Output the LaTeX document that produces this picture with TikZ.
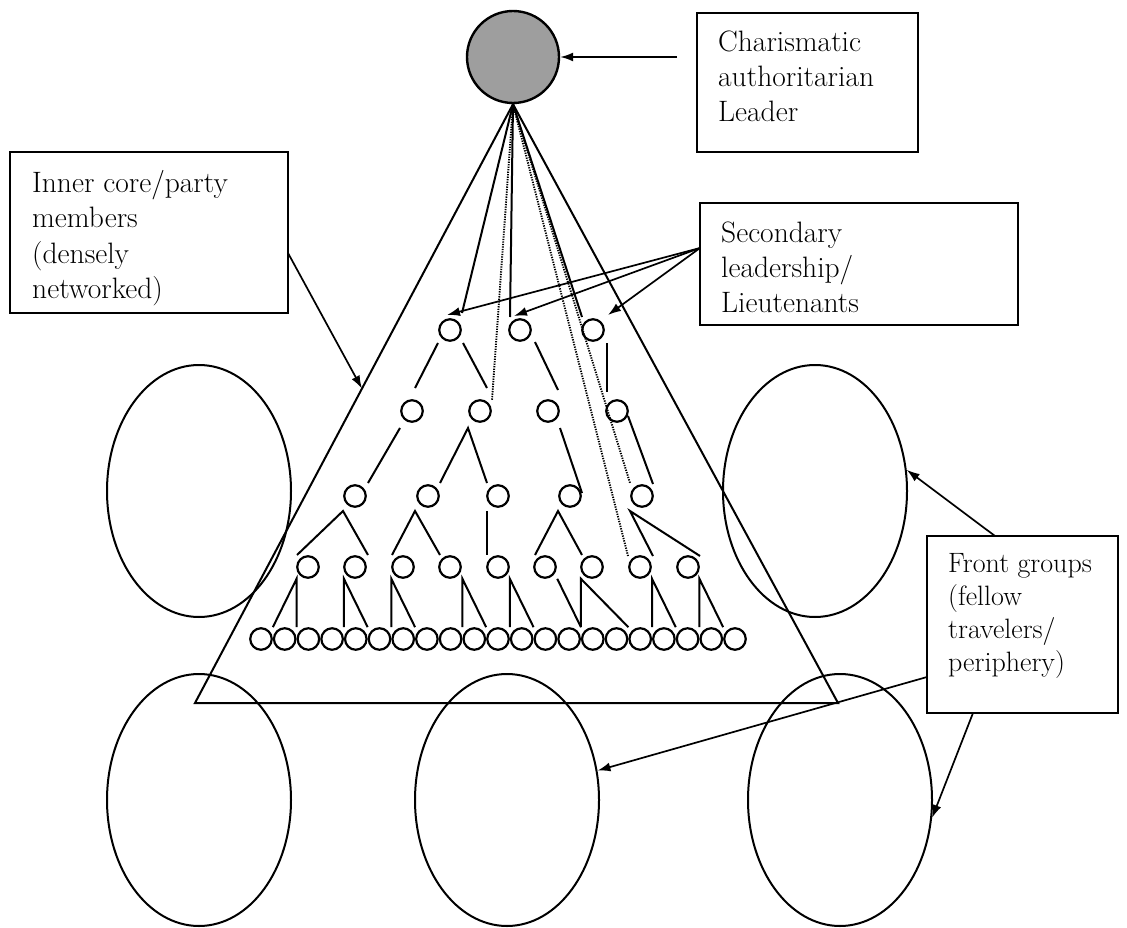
\documentclass[tikz,border=0pt]{standalone}
\usetikzlibrary{shapes.geometric,calc,arrows.meta}
\begin{document}
\begin{tikzpicture}[x=1pt,y=-1pt,
  box/.style={draw, line width=2.4pt, rectangle, inner sep=0pt, outer sep=0pt},
  lbl/.style={anchor=base west, inner sep=0pt, font=\fontsize{29.5}{35}\selectfont},
  flbl/.style={lbl, font=\fontsize{28}{33}\selectfont},
  member/.style={draw, circle, line width=2.2pt, minimum size=21.5pt, inner sep=0pt},
  leader/.style={draw, circle, line width=2.4pt, fill=black!38, minimum size=92pt, inner sep=0pt},
  group/.style={draw, ellipse, line width=2pt, inner sep=0pt, minimum width=184pt, minimum height=252pt},
  link/.style={line width=2pt},
  tie/.style={line width=1.9pt, dash pattern=on 1.3pt off 1.2pt},
  pointer/.style={line width=1.7pt, -{Latex[length=13pt,width=9pt]}},
]
\useasboundingbox (0,0) rectangle (1127,928);

% leader and the organisation pyramid
\node[leader] (lead) at (513,57) {};
\coordinate (tl) at (195,703);
\coordinate (tr) at (838,703);
\draw[link, line join=miter] (lead.south) -- (tl) -- (tr) -- cycle;

% lieutenants and lower ranks
\node[member] (l1) at (450,330) {};
\node[member] (l2) at (520,330) {};
\node[member] (l3) at (593,330) {};
\node[member] (m1) at (412,411) {};
\node[member] (m2) at (480,411) {};
\node[member] (m3) at (548,411) {};
\node[member] (m4) at (617,411) {};
\node[member] (n1) at (355,496) {};
\node[member] (n2) at (428,496) {};
\node[member] (n3) at (498,496) {};
\node[member] (n4) at (570,496) {};
\node[member] (n5) at (642,496) {};
\foreach \x [count=\i] in {308,355,403,450,498,545,592,640,688}
  \node[member] (p\i) at (\x,567) {};
\foreach \i in {1,...,21}
  \node[member] (b\i) at ({261+23.7*(\i-1)},639) {};
\foreach \i [count=\j from 2] in {1,...,20}
  \coordinate (j\i) at ($(b\i.north)!0.5!(b\j.north)$);

% fan of ties from the leader
\draw[link] (lead.south) -- ($(l1)+(12,-17)$);
\draw[link] (lead.south) -- ($(l2)+(-10,-13)$);
\draw[link] (lead.south) -- ($(l3)+(-11,-13)$);
\draw[tie] (lead.south) -- ($(m2)+(12,-11)$);
\draw[tie] (lead.south) -- ($(n5)+(-12,-13)$);
\draw[tie] (lead.south) -- ($(p8)+(-12,-11)$);

% lieutenants to second rank
\draw[link] ($(l1)+(-12,13)$) -- ($(m1)+(3,-23)$);
\draw[link] ($(l1)+(13,13)$) -- ($(m2)+(7,-23)$);
\draw[link] ($(l2)+(15,12)$) -- ($(m3)+(10,-21)$);
\draw[link] ($(l3)+(14,13)$) -- ($(m4)+(-10,-19)$);

% second rank to third rank
\draw[link] ($(m1)+(-12,17)$) -- ($(n1)+(13,-13)$);
\draw[link] ($(n2)+(12,-13)$) -- ($(m2)+(-12,17)$) -- ($(n3)+(-11,-13)$);
\draw[link] ($(m3)+(12,17)$) -- ($(n4)+(12,-3)$);
\draw[link] ($(m4)+(11,5)$) -- ($(n5)+(11,-12)$);

% third rank to fourth rank
\draw[link] ($(p1)+(-11,-12)$) -- ($(n1)+(-12,15)$) -- ($(p2)+(13,-12)$);
\draw[link] ($(p3)+(-11,-12)$) -- ($(n2)+(-13,15)$) -- ($(p4)+(-10,-12)$);
\draw[link] ($(n3)+(-11,15)$) -- ($(p5)+(-11,-12)$);
\draw[link] ($(p6)+(-10,-12)$) -- ($(n4)+(-12,15)$) -- ($(p7)+(-10,-12)$);
\draw[link] ($(p8)+(13,-11)$) -- ($(n5)+(-12,15)$) -- ($(p9)+(12,-11)$);

% fourth rank to the rank and file
\draw[link] (j2) -- (j2 |- p1.south) -- (j1);
\draw[link] (j4) -- (j4 |- p2.south) -- (j5);
\draw[link] (j6) -- (j6 |- p3.south) -- (j7);
\draw[link] (j9) -- (j9 |- p4.south) -- (j10);
\draw[link] (j11) -- (j11 |- p5.south) -- (j12);
\draw[link] (j13 |- p6.south) -- (j14);
\draw[link] (j14) -- (j14 |- p7.south) -- (j16);
\draw[link] (j17) -- (j17 |- p8.south) -- (j18);
\draw[link] (j19) -- (j19 |- p9.south) -- (j20);

% front groups
\node[group] (elm) at (199,491) {};
\node[group] (erm) at (815,491) {};
\node[group] (ebl) at (199,800) {};
\node[group] (ebm) at (507,800) {};
\node[group] (ebr) at (840,800) {};

% label boxes
\node[box, minimum width=221pt, minimum height=139pt] (cbox) at (807.5,82.5) {};
\node[lbl] (c1) at ($(cbox.north west)+(21,39)$) {Charismatic};
\node[lbl] (c2) at ($(c1.base west)+(0,35)$) {authoritarian};
\node[lbl] (c3) at ($(c2.base west)+(0,35)$) {Leader};

\node[box, minimum width=278pt, minimum height=161pt] (ibox) at (149,232.5) {};
\node[lbl] (i1) at ($(ibox.north west)+(22,41)$) {Inner core/party};
\node[lbl] (i2) at ($(i1.base west)+(0,35)$) {members};
\node[lbl] (i3) at ($(i2.base west)+(0,35)$) {(densely};
\node[lbl] (i4) at ($(i3.base west)+(0,35)$) {networked)};

\node[box, minimum width=318pt, minimum height=122pt] (sbox) at (859,264) {};
\node[lbl] (s1) at ($(sbox.north west)+(21,39)$) {Secondary};
\node[lbl] (s2) at ($(s1.base west)+(0,35)$) {leadership/};
\node[lbl] (s3) at ($(s2.base west)+(0,35)$) {Lieutenants};

\node[box, minimum width=191pt, minimum height=177pt] (fbox) at (1022.5,624.5) {};
\node[flbl] (f1) at ($(fbox.north west)+(21,36)$) {Front groups};
\node[flbl] (f2) at ($(f1.base west)+(0,33)$) {(fellow};
\node[flbl] (f3) at ($(f2.base west)+(0,33)$) {travelers/};
\node[flbl] (f4) at ($(f3.base west)+(0,33)$) {periphery)};

% pointers from the labels
\draw[pointer] ($(cbox.north west)+(-20,44)$) -- (lead.east);
\draw[pointer] ($(ibox.north east)+(0,101)$) -- ($(lead.south)!0.475!(tl)$);
\draw[pointer] ($(sbox.north west)+(0,45)$) -- ($(l1)+(-3,-15)$);
\draw[pointer] ($(sbox.north west)+(0,45)$) -- ($(l2)+(-6,-14)$);
\draw[pointer] ($(sbox.north west)+(0,45)$) -- ($(l3)+(15,-15)$);
\draw[pointer] ($(fbox.north west)+(68,0)$) -- (erm.13);
\draw[pointer] ($(fbox.north west)+(0,141)$) -- (ebm.18);
\draw[pointer] ($(fbox.south west)+(46,0)$) -- (ebr.-11);
\end{tikzpicture}
\end{document}
